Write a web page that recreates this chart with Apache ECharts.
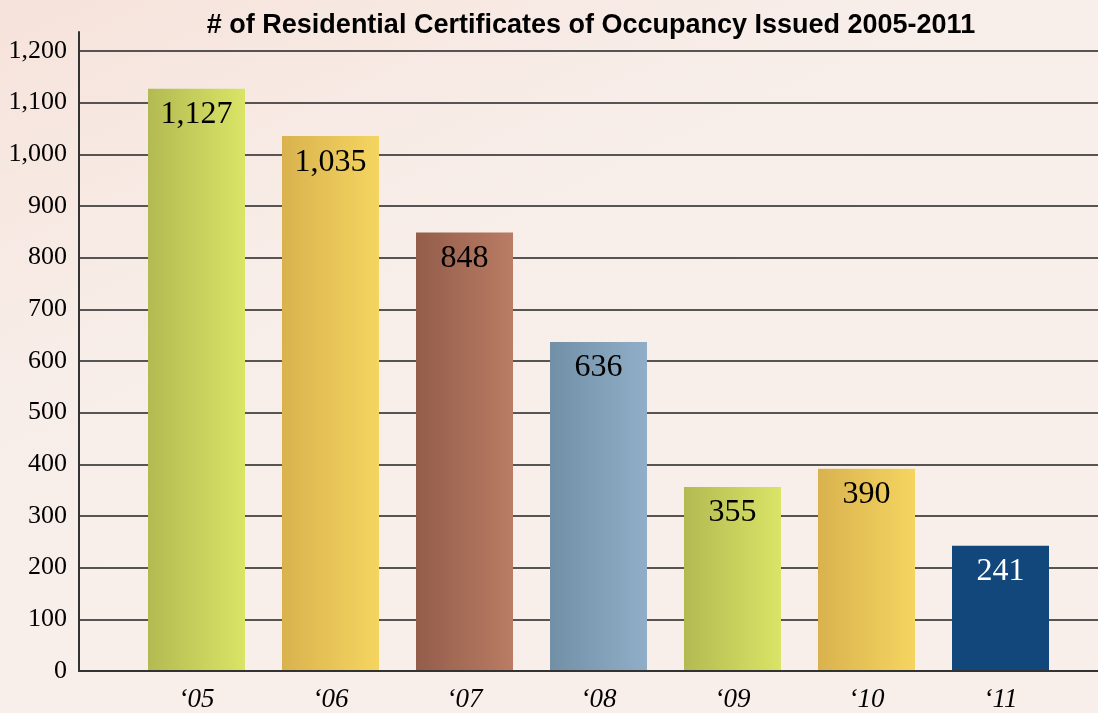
<!DOCTYPE html>
<html>
<head>
<meta charset="utf-8">
<script src="https://cdn.jsdelivr.net/npm/echarts@6/dist/echarts.min.js"></script>
<style>
html,body{margin:0;padding:0;}
#chart{width:1098px;height:713px;}
</style>
</head>
<body>
<div id="chart"></div>
<script>
var titleText = '# of Residential Certificates of Occupancy Issued 2005-2011';
var categories = ['\u201805', '\u201806', '\u201807', '\u201808', '\u201809', '\u201810', '\u201811'];
var values = [1127, 1035, 848, 636, 355, 390, 241];
var barColors = [
  ['#b3ba52', '#dae466'],
  ['#d9b24e', '#f5d560'],
  ['#935d4a', '#ba7c64'],
  ['#7190a6', '#91aec8'],
  ['#b3ba52', '#dae466'],
  ['#d9b24e', '#f5d560'],
  ['#11477a', '#11477a']
];
var labelColors = ['#000', '#000', '#000', '#000', '#000', '#000', '#fff'];
var yMin = 0, yMax = 1200, yStep = 100;

function grad(c) {
  return new echarts.graphic.LinearGradient(0, 0, 1, 0, [
    { offset: 0, color: c[0] }, { offset: 1, color: c[1] }
  ]);
}

var chart = echarts.init(document.getElementById('chart'), null, { renderer: 'canvas' });
var serif = '"Liberation Serif", "Times New Roman", serif';
var option = {
  animation: false,
  backgroundColor: new echarts.graphic.LinearGradient(0, 0, 0.3, 1, [
    { offset: 0, color: '#f6e3db' },
    { offset: 0.5, color: '#f8eee9' },
    { offset: 1, color: '#f8efeb' }
  ]),
  title: {
    text: titleText,
    left: 586, top: 7, textAlign: 'center',
    textStyle: { fontFamily: '"Liberation Sans", Arial, sans-serif', fontWeight: 'bold', fontSize: 27, color: '#000' }
  },
  grid: [
    { left: 79, right: 0, top: 51, bottom: 42 },
    { left: 129.5, right: 30.5, top: 51, bottom: 42 },
    { left: 79, width: 1, top: 32, bottom: 42 }
  ],
  xAxis: [
    { gridIndex: 0, type: 'category', data: categories,
      axisLine: { show: true, lineStyle: { color: '#333', width: 2 } },
      axisTick: { show: false }, axisLabel: { show: false } },
    { gridIndex: 1, type: 'category', data: categories,
      axisLine: { show: false }, axisTick: { show: false },
      axisLabel: { fontFamily: serif, fontStyle: 'italic', fontSize: 27, color: '#000', margin: 16 } },
    { gridIndex: 2, type: 'category', data: [''], show: false }
  ],
  yAxis: [
    { gridIndex: 0, type: 'value', min: yMin, max: yMax, interval: yStep,
      axisLine: { show: false }, axisTick: { show: false },
      axisLabel: { fontFamily: serif, fontSize: 26, color: '#000', margin: 12,
        formatter: function (v) { return v.toLocaleString('en-US'); } },
      splitLine: { show: true, lineStyle: { color: '#222', width: 1.6 } } },
    { gridIndex: 1, type: 'value', min: yMin, max: yMax, interval: yStep, show: false },
    { gridIndex: 2, type: 'value', min: 0, max: 1, show: true,
      axisLine: { show: true, lineStyle: { color: '#333', width: 2 } },
      axisTick: { show: false }, axisLabel: { show: false }, splitLine: { show: false } }
  ],
  series: [{
    type: 'bar',
    xAxisIndex: 1, yAxisIndex: 1,
    barWidth: 97,
    data: values.map(function (v, i) {
      return {
        value: v,
        itemStyle: { color: grad(barColors[i]) },
        label: { color: labelColors[i] }
      };
    }),
    label: {
      show: true, position: 'insideTop', distance: 10,
      fontFamily: serif, fontSize: 32,
      formatter: function (p) { return p.value.toLocaleString('en-US'); }
    }
  }]
};
chart.setOption(option);
</script>
</body>
</html>
